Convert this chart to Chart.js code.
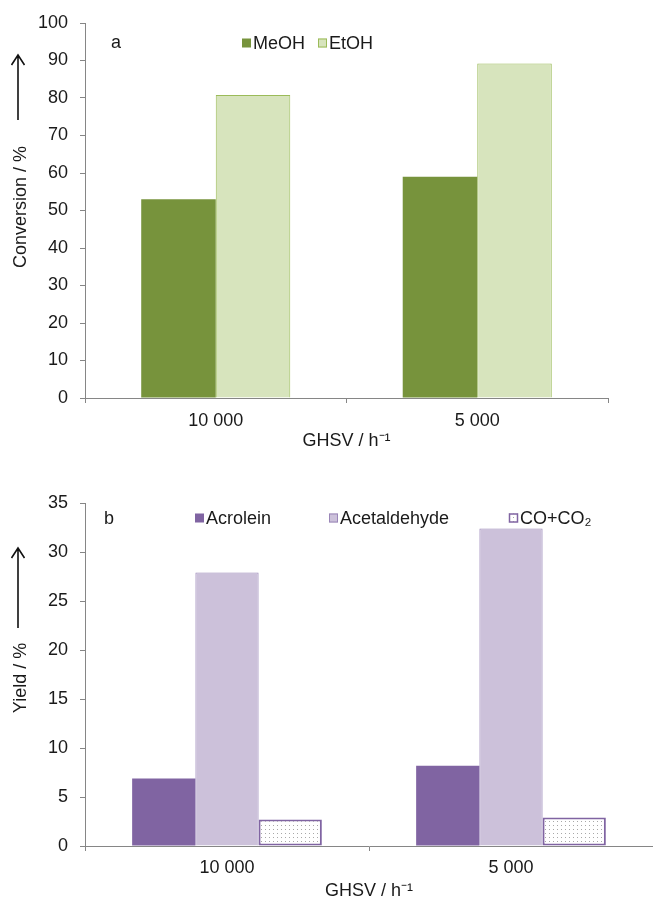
<!DOCTYPE html>
<html>
<head>
<meta charset="utf-8">
<script src="https://cdn.jsdelivr.net/npm/chart.js@4.4.0/dist/chart.umd.min.js"></script>
<style>
  body { margin: 0; background: #fff; }
  .panel { position: absolute; left: 0; width: 653px; }
  #panelA { top: 0; height: 460px; }
  #panelB { top: 460px; height: 439px; }
</style>
</head>
<body>
<div class="panel" id="panelA"><canvas id="chartA" width="653" height="460"></canvas></div>
<div class="panel" id="panelB"><canvas id="chartB" width="653" height="439"></canvas></div>
<script>
// categories
var ghsv = ['10 000', '5 000']

// panel a - conversion (%)
var meoh = [53, 59]
var etoh = [80.8, 89.2]

// panel b - yield (%)
var acrolein = [6.9, 8.2]
var acetaldehyde = [27.9, 32.4]
var coco2 = [2.7, 2.9]

var FONT = '"Liberation Sans", Arial, sans-serif'
var TEXT = '#1a1a1a'
var AXIS = '#868686'

// dotted fill for CO+CO2
function dotPattern() {
  var c = document.createElement('canvas')
  c.width = 4
  c.height = 4
  var g = c.getContext('2d')
  g.fillStyle = '#ffffff'
  g.fillRect(0, 0, 4, 4)
  g.fillStyle = '#a8a8a8'
  g.fillRect(1, 1, 1, 1)
  return g.createPattern(c, 'repeat')
}

// panel letter, legend and the y title with its arrow
var panelDecor = {
  id: 'panelDecor',
  afterDraw: function (chart, args, o) {
    var ctx = chart.ctx
    ctx.save()
    ctx.fillStyle = TEXT
    ctx.font = '18px ' + FONT
    ctx.textBaseline = 'middle'
    ctx.textAlign = 'left'
    ctx.fillText(o.letter, o.letterX, o.letterY)

    // legend
    chart.data.datasets.forEach(function (ds, i) {
      var x = o.legendX[i]
      var y = o.legendY
      ctx.fillStyle = ds.backgroundColor
      ctx.fillRect(x, y - 4.5, 9, 9)
      if (ds.borderWidth) {
        ctx.strokeStyle = ds.borderColor
        ctx.lineWidth = ds.borderWidth > 1 ? 1.5 : 1
        ctx.strokeRect(x + 0.5, y - 4, 8, 8)
      }
      ctx.fillStyle = TEXT
      ctx.fillText(ds.label, x + 11, y + 1)
    })

    // y title, rotated
    ctx.translate(o.titleX, o.titleY)
    ctx.rotate(-Math.PI / 2)
    ctx.textAlign = 'center'
    ctx.fillText(o.yTitle, 0, 0)
    ctx.setTransform(1, 0, 0, 1, 0, 0)

    // arrow
    ctx.strokeStyle = '#111'
    ctx.lineWidth = 1.6
    ctx.beginPath()
    ctx.moveTo(o.arrowX, o.arrowBottom)
    ctx.lineTo(o.arrowX, o.arrowTop + 1)
    ctx.moveTo(o.arrowX - 6.5, o.arrowTop + 10)
    ctx.lineTo(o.arrowX, o.arrowTop)
    ctx.lineTo(o.arrowX + 6.5, o.arrowTop + 10)
    ctx.stroke()
    ctx.restore()
  }
}

function makeOptions(cfg) {
  return {
    responsive: false,
    animation: false,
    devicePixelRatio: 1,
    layout: { padding: { top: cfg.padTop, right: cfg.padRight, left: 0, bottom: 0 } },
    plugins: {
      legend: { display: false },
      tooltip: { enabled: false },
      panelDecor: cfg.decor
    },
    scales: {
      x: {
        afterFit: function (s) { s.height = cfg.xHeight },
        grid: { display: true, drawOnChartArea: false, drawTicks: true, tickLength: 5, color: AXIS, offset: true },
        border: { display: true, color: AXIS, width: 1 },
        ticks: { color: TEXT, font: { family: FONT, size: 18 }, padding: cfg.xPad },
        title: {
          display: true,
          text: 'GHSV / h⁻¹',
          color: TEXT,
          font: { family: FONT, size: 18 },
          padding: { top: 0, bottom: cfg.titlePad }
        }
      },
      y: {
        min: 0,
        max: cfg.yMax,
        afterFit: function (s) { s.width = 85 },
        grid: { display: true, drawOnChartArea: false, drawTicks: true, tickLength: 5, color: AXIS },
        border: { display: true, color: AXIS, width: 1 },
        ticks: { stepSize: cfg.yStep, color: TEXT, font: { family: FONT, size: 18 }, padding: 12 }
      }
    }
  }
}

new Chart(document.getElementById('chartA'), {
  type: 'bar',
  data: {
    labels: ghsv,
    datasets: [
      {
        label: 'MeOH',
        data: meoh,
        backgroundColor: '#77933C',
        borderWidth: 0,
        categoryPercentage: 0.57,
        barPercentage: 1.0
      },
      {
        label: 'EtOH',
        data: etoh,
        backgroundColor: '#D7E4BD',
        borderColor: '#9BBB59',
        borderWidth: 1,
        categoryPercentage: 0.57,
        barPercentage: 1.0
      }
    ]
  },
  options: makeOptions({
    padTop: 23, padRight: 45, xHeight: 62, xPad: 7, titlePad: 8, yMax: 100, yStep: 10,
    decor: {
      letter: 'a', letterX: 111, letterY: 43,
      legendX: [242, 318], legendY: 43,
      yTitle: 'Conversion / %', titleX: 21, titleY: 207,
      arrowX: 18, arrowTop: 55, arrowBottom: 120
    }
  }),
  plugins: [panelDecor]
})

new Chart(document.getElementById('chartB'), {
  type: 'bar',
  data: {
    labels: ghsv,
    datasets: [
      {
        label: 'Acrolein',
        data: acrolein,
        backgroundColor: '#8064A2',
        borderWidth: 0,
        categoryPercentage: 0.668,
        barPercentage: 1.0
      },
      {
        label: 'Acetaldehyde',
        data: acetaldehyde,
        backgroundColor: '#CCC1DA',
        borderColor: '#9A86B8',
        borderWidth: 1,
        categoryPercentage: 0.668,
        barPercentage: 1.0
      },
      {
        label: 'CO+CO₂',
        data: coco2,
        backgroundColor: dotPattern(),
        borderColor: '#8064A2',
        borderWidth: 2,
        borderSkipped: false,
        categoryPercentage: 0.668,
        barPercentage: 1.0
      }
    ]
  },
  options: makeOptions({
    padTop: 43, padRight: 0, xHeight: 53, xPad: 6, titlePad: -3, yMax: 35, yStep: 5,
    decor: {
      letter: 'b', letterX: 104, letterY: 59,
      legendX: [195, 329, 509], legendY: 58,
      yTitle: 'Yield / %', titleX: 21, titleY: 218,
      arrowX: 18, arrowTop: 88, arrowBottom: 168
    }
  }),
  plugins: [panelDecor]
})
</script>
</body>
</html>
